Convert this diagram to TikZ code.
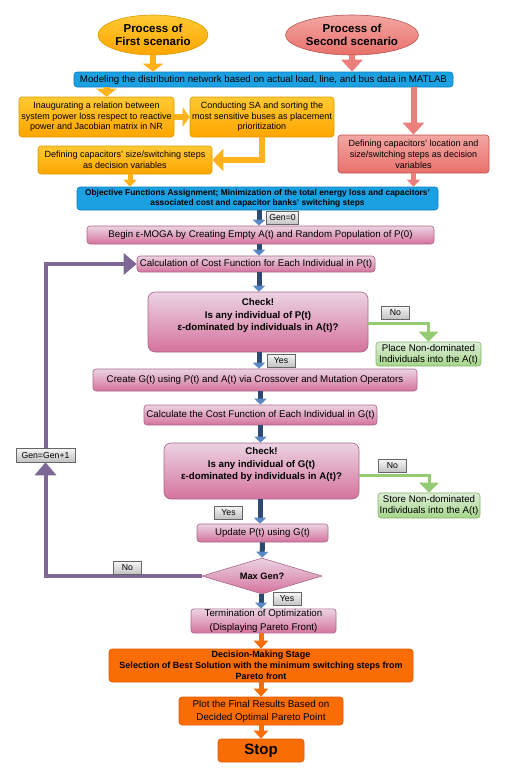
\documentclass[tikz,border=0pt]{standalone}
\usepackage{fontspec}
\setmainfont{Liberation Sans}
\usetikzlibrary{arrows.meta,shapes.geometric,calc}
\definecolor{ytop}{HTML}{FFC933}
\definecolor{ybot}{HTML}{FFA500}
\definecolor{ydraw}{HTML}{D79B00}
\definecolor{yarrc}{HTML}{FFB21A}
\definecolor{rtop}{HTML}{F4A6A3}
\definecolor{rbot}{HTML}{E8706B}
\definecolor{rdraw}{HTML}{B85450}
\definecolor{rarrc}{HTML}{EC7F7B}
\definecolor{bfill}{HTML}{1BA1E2}
\definecolor{bdraw}{HTML}{0B80C0}
\definecolor{ptop}{HTML}{EBD3E2}
\definecolor{pbot}{HTML}{D5739D}
\definecolor{pdraw}{HTML}{A9668E}
\definecolor{gtop}{HTML}{DDEDD8}
\definecolor{gbot}{HTML}{A6D68A}
\definecolor{gdraw}{HTML}{82B366}
\definecolor{garrc}{HTML}{96CB76}
\definecolor{ltop}{HTML}{F5F5F5}
\definecolor{lbot}{HTML}{C2C2C2}
\definecolor{ldraw}{HTML}{666666}
\definecolor{ofill}{HTML}{FA6D05}
\definecolor{odraw}{HTML}{E05A00}
\definecolor{barrc}{HTML}{2E4A72}
\definecolor{btipc}{HTML}{5A88C4}
\definecolor{purp}{HTML}{7D6795}
\begin{document}
\begin{tikzpicture}[x=1pt,y=-1pt,
  every node/.style={inner sep=1pt, align=center, text=black},
  base/.style={rectangle, rounded corners=3pt, line width=0.6pt, font=\fontsize{9.7}{11}\selectfont},
  ybox/.style={base, top color=ytop, bottom color=ybot, draw=ydraw, font=\fontsize{9}{10.5}\selectfont},
  rbox/.style={base, top color=rtop, bottom color=rbot, draw=rdraw, font=\fontsize{9}{11}\selectfont},
  bbox/.style={base, fill=bfill, draw=bdraw},
  pbox/.style={base, top color=ptop, bottom color=pbot, draw=pdraw},
  gbox/.style={base, top color=gtop, bottom color=gbot, draw=gdraw},
  obox/.style={base, fill=ofill, draw=odraw},
  lbl/.style={rectangle, line width=0.5pt, top color=ltop, bottom color=lbot, draw=ldraw, font=\fontsize{8.7}{10}\selectfont, inner xsep=3pt, minimum height=13pt, minimum width=28pt},
  yarr/.style={draw=yarrc, line width=6pt, -{Triangle[length=8pt,width=20pt]}},
  rarr/.style={draw=rarrc, line width=6pt, -{Triangle[length=12pt,width=21pt]}},
  barr/.style={draw=barrc, line width=5pt, -{Triangle[length=6pt,width=12pt,color=btipc]}},
  purarr/.style={draw=purp, line width=4pt, -{Triangle[length=13pt,width=21pt]}},
  garr/.style={draw=garrc, line width=3pt, -{Triangle[length=10pt,width=19pt]}},
  oarr/.style={draw=ofill, line width=5pt, -{Triangle[length=8pt,width=14pt]}}
]
\useasboundingbox (0,0) rectangle (504,771);

% ellipses
\node[ellipse, top color=ytop, bottom color=ybot, draw=ydraw, line width=0.6pt, minimum width=110pt, minimum height=40pt, font=\fontsize{11.5}{13.3}\selectfont\bfseries] (e1) at (153,35) {Process of\\First scenario};
\node[ellipse, top color=rtop, bottom color=rbot, draw=rdraw, line width=0.6pt, minimum width=113pt, minimum height=40pt, font=\fontsize{11.5}{13.3}\selectfont\bfseries] (e2) at (352,35) {Process of\\Second scenario};

% modeling bar
\node[bbox, minimum width=379pt, minimum height=15pt] (model) at (263.5,79.5) {Modeling the distribution network based on actual load, line, and bus data in MATLAB};

% first scenario boxes
\node[ybox, minimum width=155pt, minimum height=40pt] (b1) at (96.5,117) {Inaugurating a relation between\\system power loss respect to reactive\\power and Jacobian matrix in NR};
\node[ybox, minimum width=144pt, minimum height=40pt] (b2) at (262,117) {Conducting SA and sorting the\\most sensitive buses as placement\\prioritization};
\node[ybox, minimum width=174pt, minimum height=28pt] (b3) at (125,160) {Defining capacitors' size/switching steps\\as decision variables};

% second scenario box
\node[rbox, minimum width=151pt, minimum height=38pt] (r1) at (413.5,154) {Defining capacitors' location and\\size/switching steps as decision\\variables};

% objective bar
\node[bbox, minimum width=361pt, minimum height=23pt, font=\fontsize{8.4}{10}\selectfont\bfseries] (obj) at (257.5,198.5) {Objective Functions Assignment; Minimization of the total energy loss and capacitors'\\associated cost and capacitor banks' switching steps};

% MOGA
\node[pbox, minimum width=347pt, minimum height=18pt] (begin) at (260.5,235) {Begin ε-MOGA by Creating Empty A(t) and Random Population of P(0)};
\node[pbox, minimum width=238pt, minimum height=16pt] (calc) at (256,264) {Calculation of Cost Function for Each Individual in P(t)};
\node[pbox, rounded corners=7pt, minimum width=220pt, minimum height=60pt, text depth=14.5pt, font=\fontsize{9.7}{12.7}\selectfont\bfseries] (chk1) at (258,322) {Check!\\Is any individual of P(t)\\ε-dominated by individuals in A(t)?};
\node[gbox, minimum width=105pt, minimum height=24pt, font=\fontsize{9.7}{11}\selectfont] (place) at (428.5,354) {Place Non-dominated\\Individuals into the A(t)};
\node[pbox, minimum width=324pt, minimum height=22pt] (create) at (255,380) {Create G(t) using P(t) and A(t) via Crossover and Mutation Operators};
\node[pbox, minimum width=233pt, minimum height=20pt] (cost) at (260.5,415) {Calculate the Cost Function of Each Individual in G(t)};
\node[pbox, rounded corners=7pt, minimum width=195pt, minimum height=56pt, text depth=14.5pt, font=\fontsize{9.7}{12.3}\selectfont\bfseries] (chk2) at (261.5,471) {Check!\\Is any individual of G(t)\\ε-dominated by individuals in A(t)?};
\node[gbox, minimum width=102pt, minimum height=25pt, font=\fontsize{9.7}{11}\selectfont] (store) at (429,505.5) {Store Non-dominated\\Individuals into the A(t)};
\node[pbox, minimum width=131pt, minimum height=18pt] (update) at (262.5,533) {Update P(t) using G(t)};
\node[diamond, aspect=3.33, top color=ptop, bottom color=pbot, draw=pdraw, line width=0.6pt, minimum width=120pt, minimum height=36pt, inner sep=0pt, font=\fontsize{9.3}{10.5}\selectfont\bfseries] (dia) at (262,576) {Max Gen?};
\node[pbox, minimum width=145pt, minimum height=24pt, font=\fontsize{9.7}{13.3}\selectfont] (term) at (263.5,621) {Termination of Optimization\\(Displaying Pareto Front)};

% gen label box
\node[lbl, minimum width=59pt, minimum height=14pt] (gen) at (45.5,455) {Gen=Gen+1};

% decision
\node[obox, minimum width=304pt, minimum height=33pt, font=\fontsize{9}{11}\selectfont\bfseries] (dec) at (261,665.5) {Decision-Making Stage\\Selection of Best Solution with the minimum switching steps from\\Pareto front};
\node[obox, minimum width=164pt, minimum height=28pt, font=\fontsize{9.8}{13}\selectfont] (plot) at (261,711) {Plot the Final Results Based on\\Decided Optimal Pareto Point};
\node[obox, minimum width=86pt, minimum height=23pt, font=\fontsize{15}{17}\selectfont\bfseries] (stop) at (261,750.5) {Stop};

% connectors top
\draw[yarr] (e1.south) -- (e1.south |- model.north);
\draw[rarr] (e2.south) -- (e2.south |- model.north);
\draw[yarr] ([xshift=10pt]b1.north |- model.south) -- ([xshift=10pt]b1.north);
\draw[yarr, -{Triangle[length=7pt,width=19pt]}] (b1.east) -- (b2.west);
\draw[yarr, -{Triangle[length=11pt,width=22pt]}] (b2.south) |- (b3.east);
\draw[rarr] (r1.north |- model.south) -- (r1.north);
\draw[yarr, line width=5pt, -{Triangle[length=7pt,width=13pt]}] ([xshift=5pt]b3.south) -- ([xshift=5pt]b3.south |- obj.north);
\draw[rarr, line width=5pt, -{Triangle[length=7pt,width=13pt]}] (r1.south) -- (r1.south |- obj.north);

% main column
\draw[barr] ([xshift=1.5pt]obj.south) -- ([xshift=1.5pt]obj.south |- begin.north);
\node[lbl] (l0) at (282.5,218) {Gen=0};
\draw[barr] ([xshift=-1.5pt]begin.south) -- ([xshift=-1.5pt]begin.south |- calc.north);
\draw[barr] ([xshift=3pt]calc.south) -- ([xshift=3pt]calc.south |- chk1.north);
\draw[barr] ([xshift=1pt]chk1.south) -- ([xshift=1pt]chk1.south |- create.north);
\node[lbl] (ly1) at (281,360.5) {Yes};
\draw[garr] ([yshift=-1pt]chk1.east) -| (place.north);
\node[lbl] (ln1) at (395.5,312.5) {No};
\draw[barr] (cost.north |- create.south) -- (cost.north);
\draw[barr] (cost.south) -- (cost.south |- chk2.north);
\draw[garr] ([yshift=-4pt]chk2.east) -| (store.north);
\node[lbl] (ln2) at (392.5,466) {No};
\draw[barr] ([xshift=-1.5pt]chk2.south) -- ([xshift=-1.5pt]chk2.south |- update.north);
\node[lbl] (ly2) at (228.5,512.5) {Yes};
\draw[barr] (update.south) -- (dia.north);
\draw[barr] ([xshift=-1pt]dia.south) -- ([xshift=-1pt]dia.south |- term.north);
\node[lbl] (ly3) at (287,599) {Yes};

% loop
\draw[purarr] (dia.west) -| (gen.south);
\node[lbl] (ln3) at (127.5,568) {No};
\draw[purarr] (gen.north) |- (calc.west);

% bottom
\draw[oarr] (dec.north |- term.south) -- (dec.north);
\draw[oarr] (dec.south) -- (plot.north);
\draw[oarr] (plot.south) -- (stop.north);
\end{tikzpicture}
\end{document}
